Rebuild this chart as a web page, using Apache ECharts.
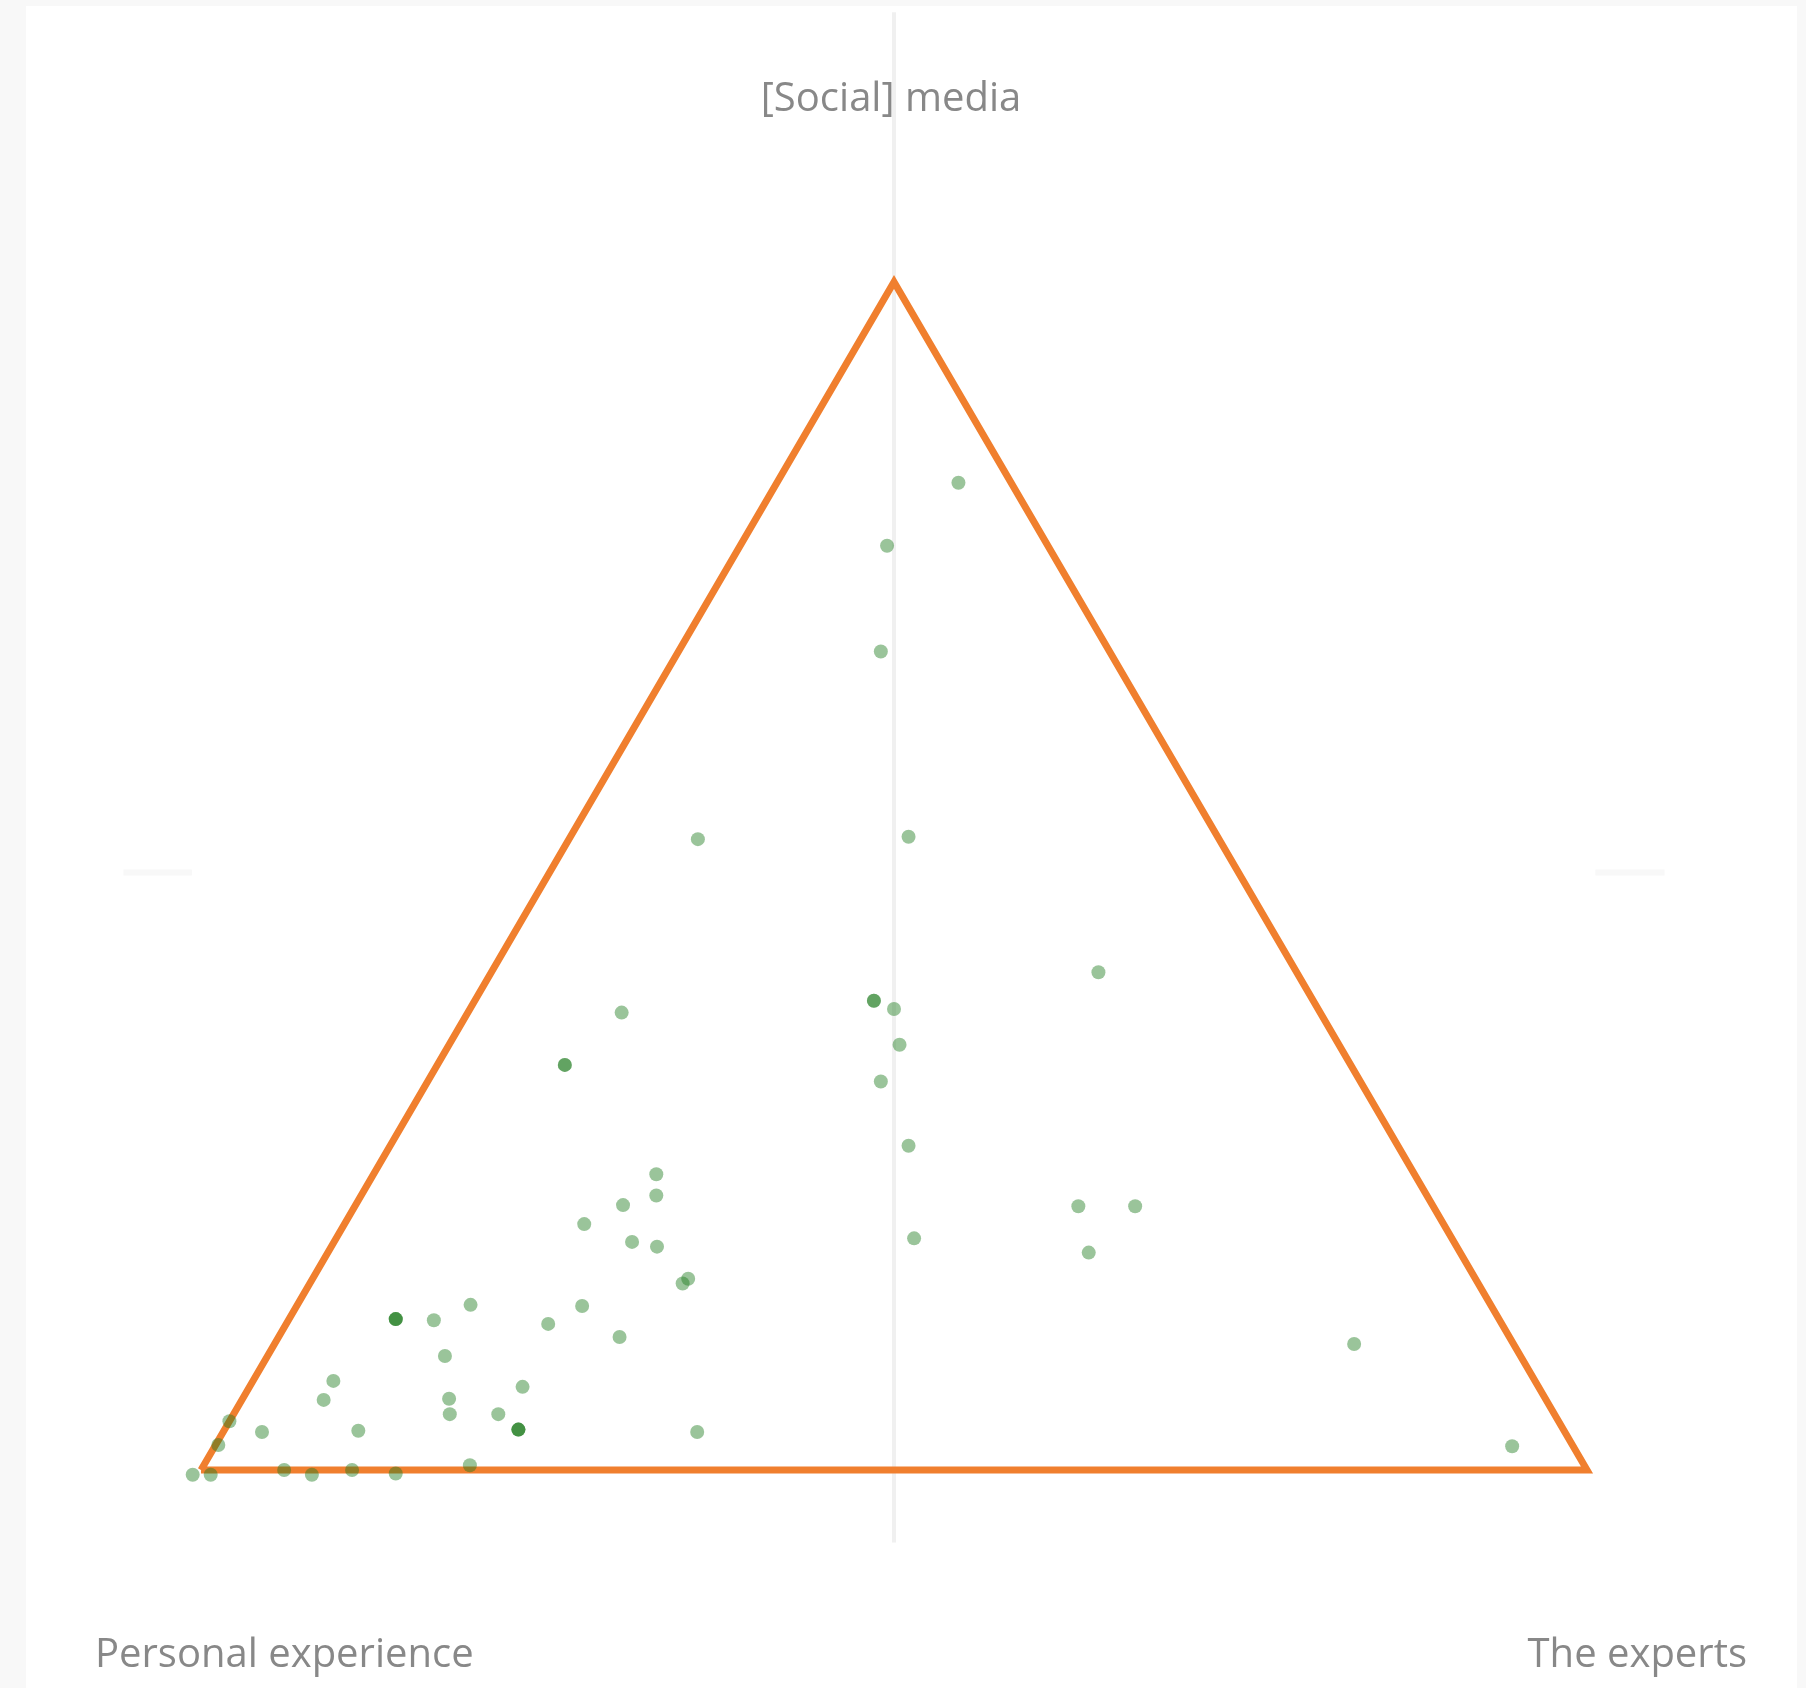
<!DOCTYPE html>
<html>
<head>
<meta charset="utf-8">
<script src="https://cdn.jsdelivr.net/npm/echarts@6/dist/echarts.min.js"></script>
<style>
html,body{margin:0;padding:0;background:#f8f8f8;}
#chart{width:1806px;height:1688px;}
</style>
</head>
<body>
<div id="chart"></div>
<script>
// Corner (axis) names of the ternary plot
const cornerNames = ['Personal experience', '[Social] media', 'The experts'];

// Each response: share (%) given to personal experience, [social] media, the experts
// (responses that coincide appear several times)
const personal = [3.8, 11.6, 16.5, 37.6, 22.3, 14.3, 31.7, 31.7, 30.6, 31.7, 34.6,
  50.4, 56.7, 56.7, 35.3, 54.7, 55.6, 58.4, 62.0, 59.3, 57.7, 56.8, 57.4,
  38.8, 25.6, 21.5, 26.8, 11.5, 4.4,
  79.6, 79.6, 79.6, 76.9, 73.6, 68.8, 65.6, 64.2, 77.6, 86.7, 88.2, 79.1, 79.7,
  73.3, 76.2, 75.4, 75.4, 75.4, 95.9, 97.7, 94.0, 87.0, 62.6, 80.4,
  100.8, 99.5, 94.0, 92.2, 89.1, 86.1];
const social = [83.1, 77.8, 68.9, 53.1, 53.3, 41.9, 39.5, 39.5, 38.8, 35.8, 32.7,
  38.5, 34.1, 34.1, 27.3, 24.9, 23.1, 22.3, 20.7, 19.2, 18.8, 16.1, 15.7,
  19.5, 22.2, 22.2, 18.3, 10.6, 2.0,
  12.7, 12.7, 12.7, 12.6, 13.9, 12.3, 13.8, 11.2, 9.6, 7.5, 5.9, 6.0, 4.7,
  7.0, 4.7, 3.4, 3.4, 3.4, 4.1, 2.1, 3.2, 3.3, 3.2, 0.4,
  -0.4, -0.4, 0.0, -0.4, 0.0, -0.3];
const experts = [13.1, 10.6, 14.6, 9.3, 24.4, 43.8, 28.8, 28.8, 30.6, 32.5, 32.7,
  11.1, 9.2, 9.2, 37.4, 20.4, 21.3, 19.3, 17.3, 21.5, 23.5, 27.1, 26.9,
  41.7, 52.2, 56.3, 54.9, 77.9, 93.6,
  7.7, 7.7, 7.7, 10.5, 12.5, 18.9, 20.6, 24.6, 12.8, 5.8, 5.9, 14.9, 15.6,
  19.7, 19.1, 21.2, 21.2, 21.2, 0.0, 0.2, 2.8, 9.7, 34.2, 19.2,
  -0.4, 0.9, 6.0, 8.2, 10.9, 14.2];

// Corners of the triangle as compositions (personal, social, experts)
const triangleCorners = [[100, 0, 0], [0, 0, 100], [0, 100, 0], [100, 0, 0]];

// Light guide lines (in plot units)
const guideVertical = [[0.5, -0.061], [0.5, 1.227]];
const guideLeft = [[-0.056, 0.503], [-0.0065, 0.503]];
const guideRight = [[1.006, 0.503], [1.056, 0.503]];

// ternary composition -> plot coordinates
function toXY(p, s, e) {
  return [(e + s / 2) / 100, s / 100];
}

const points = personal.map((p, i) => toXY(p, social[i], experts[i]));
const triangle = triangleCorners.map(c => toXY(c[0], c[1], c[2]));

const chart = echarts.init(document.getElementById('chart'), null, {renderer: 'canvas'});

const labelFont = '40px "Open Sans", "Noto Sans", sans-serif';

chart.setOption({
  animation: false,
  backgroundColor: '#f8f8f8',
  grid: {left: 62.4, right: 80.4, top: 44.4, bottom: 99.2},
  xAxis: {type: 'value', min: -0.1, max: 1.1, show: false},
  yAxis: {type: 'value', min: -0.1, max: 1.2, show: false},
  graphic: [
    {type: 'rect', z: -10, silent: true,
     shape: {x: 26, y: 6, width: 1771, height: 1682},
     style: {fill: '#ffffff'}},
    {type: 'text', z: 10, x: 95, y: 1656,
     style: {text: cornerNames[0], font: labelFont, fill: '#888888',
             textAlign: 'left', textVerticalAlign: 'middle'}},
    {type: 'text', z: 10, x: 891, y: 100,
     style: {text: cornerNames[1], font: labelFont, fill: '#888888',
             textAlign: 'center', textVerticalAlign: 'middle'}},
    {type: 'text', z: 10, x: 1747, y: 1656,
     style: {text: cornerNames[2], font: labelFont, fill: '#888888',
             textAlign: 'right', textVerticalAlign: 'middle'}}
  ],
  series: [
    {type: 'line', data: guideVertical, symbol: 'none', clip: false, silent: true, z: 1,
     lineStyle: {color: '#f0f0f0', width: 4}},
    {type: 'line', data: guideLeft, symbol: 'none', clip: false, silent: true, z: 1,
     lineStyle: {color: '#f8f8f8', width: 6}},
    {type: 'line', data: guideRight, symbol: 'none', clip: false, silent: true, z: 1,
     lineStyle: {color: '#f8f8f8', width: 6}},
    {type: 'line', data: triangle, symbol: 'none', clip: false, silent: true, z: 2,
     lineStyle: {color: '#f07f2e', width: 7, join: 'miter'}},
    {type: 'scatter', data: points, symbolSize: 14, z: 3,
     itemStyle: {color: 'rgb(30,125,30)', opacity: 0.45}}
  ]
});
</script>
</body>
</html>
